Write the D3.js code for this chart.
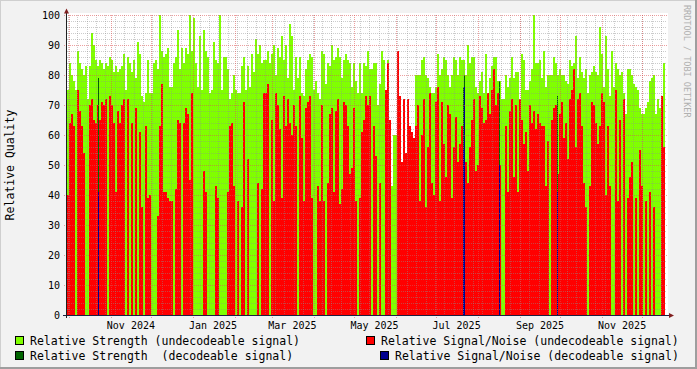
<!DOCTYPE html>
<html>
<head>
<meta charset="utf-8">
<script src="https://cdn.jsdelivr.net/npm/d3@7"></script>
<style>
html, body { margin: 0; padding: 0; background: #f2f2f2; }
svg { display: block; font-family: "DejaVu Sans Mono", monospace; }
</style>
</head>
<body>
<script>
// time span shown on the axis, and where the samples begin
const axisStart = new Date(Date.UTC(2024, 8, 29, 12))
const axisEnd = new Date(Date.UTC(2025, 11, 19, 9))
const stepHours = 35.67

// Relative Strength (undecodeable signal), one value per step
const strengthUndec = [
  75, 84, 80, 78, 75, 88, 84, 82, 80, 83, 72, 83, 94, 90, 85, 83, 85, 84, 82, 84,
  83, 86, 85, 81, 83, 81, 82, 83, 87, 75, 86, 84, 81, 85, 79, 91, 87, 73, 71, 74,
  85, 74, 74, 84, 85, 82, 100, 88, 86, 87, 89, 76, 76, 84, 86, 95, 82, 89, 84, 89,
  87, 100, 88, 99, 84, 76, 93, 75, 95, 88, 86, 74, 75, 91, 85, 84, 100, 75, 86, 86,
  82, 72, 74, 80, 75, 74, 74, 83, 86, 75, 83, 76, 87, 81, 92, 87, 90, 84, 85, 85,
  88, 84, 87, 90, 80, 89, 86, 93, 85, 90, 79, 97, 93, 75, 86, 79, 86, 74, 73, 82,
  85, 87, 86, 75, 78, 74, 72, 88, 87, 77, 84, 83, 90, 85, 86, 89, 86, 79, 85, 87,
  85, 84, 76, 84, 78, 74, 84, 74, 84, 83, 88, 82, 82, 84, 84, 70, 77, 88, 85, 75,
  85, 65, 43, 60, 60, 0, 0, 0, 0, 0, 0, 0, 0, 0, 80, 80, 80, 85, 86, 80,
  79, 76, 74, 74, 76, 87, 80, 82, 86, 85, 80, 76, 80, 86, 85, 80, 86, 85, 85, 80,
  90, 84, 86, 86, 76, 74, 78, 81, 74, 87, 74, 79, 83, 86, 86, 78, 78, 72, 72, 80,
  76, 79, 86, 79, 81, 81, 72, 87, 85, 75, 75, 78, 82, 100, 84, 84, 85, 79, 88, 76,
  80, 80, 80, 86, 84, 80, 82, 80, 80, 78, 77, 85, 83, 84, 93, 79, 86, 81, 79, 82,
  74, 80, 81, 83, 81, 80, 96, 87, 76, 93, 82, 73, 88, 76, 84, 82, 80, 81, 74, 67,
  82, 82, 80, 77, 76, 75, 69, 67, 67, 69, 71, 78, 79, 80, 67, 72, 69, 73, 84,
]

// Relative Signal/Noise (undecodeable signal), same steps
const snrUndec = [
  40, 64, 67, 63, 0, 75, 68, 63, 54, 0, 0, 70, 72, 65, 64, 70, 65, 71, 70, 72,
  0, 73, 70, 64, 41, 68, 64, 70, 72, 0, 72, 0, 64, 0, 69, 0, 61, 36, 0, 63,
  39, 40, 0, 0, 0, 33, 63, 77, 41, 41, 39, 38, 38, 0, 42, 65, 64, 0, 64, 69,
  67, 45, 74, 0, 0, 0, 0, 0, 48, 41, 0, 0, 0, 0, 43, 39, 0, 0, 0, 0,
  41, 63, 64, 43, 0, 38, 0, 36, 71, 0, 52, 0, 0, 0, 0, 44, 0, 42, 74, 74,
  77, 0, 65, 38, 74, 70, 62, 39, 73, 63, 72, 64, 60, 70, 63, 0, 73, 59, 38, 69,
  71, 73, 39, 0, 0, 43, 38, 70, 38, 0, 44, 67, 69, 41, 68, 72, 37, 42, 71, 70,
  63, 47, 49, 69, 38, 0, 39, 61, 65, 73, 70, 73, 0, 63, 53, 0, 44, 0, 0, 75,
  84, 65, 0, 0, 0, 88, 73, 51, 72, 54, 72, 63, 61, 59, 63, 70, 38, 60, 72, 36,
  56, 74, 44, 40, 71, 76, 38, 71, 57, 46, 70, 67, 39, 56, 66, 51, 57, 63, 55, 51,
  44, 56, 65, 72, 48, 50, 73, 69, 64, 65, 74, 67, 75, 82, 70, 74, 50, 0, 0, 63,
  41, 68, 72, 46, 70, 41, 72, 65, 57, 61, 48, 70, 64, 68, 62, 67, 64, 63, 63, 43,
  58, 0, 65, 69, 70, 47, 67, 71, 59, 64, 52, 72, 75, 82, 56, 72, 74, 63, 44, 36,
  0, 43, 71, 70, 64, 57, 63, 74, 71, 40, 63, 43, 0, 0, 75, 38, 65, 0, 72, 0,
  39, 46, 51, 0, 39, 0, 55, 43, 0, 38, 0, 41, 0, 36, 0, 0, 0, 73, 56,
]

// the few days with a decodeable signal
const decodeDays = ['2024-10-22', '2025-07-20', '2025-07-21', '2025-08-16', '2025-09-28']
const strengthDec = [79, 76, 80, 78, 73]
const snrDec = [41, 55, 76, 50, 41]

const yTicks = [0, 10, 20, 30, 40, 50, 60, 70, 80, 90, 100]

const legendItems = [
  { label: 'Relative Strength (undecodeable signal)', color: '#80ff00', x: 15, y: 336 },
  { label: 'Relative Signal/Noise (undecodeable signal)', color: '#ff0000', x: 366, y: 336 },
  { label: 'Relative Strength  (decodeable signal)', color: '#006400', x: 15, y: 351 },
  { label: 'Relative Signal/Noise (decodeable signal)', color: '#000090', x: 380, y: 351 },
]

const width = 697
const height = 369
const margin = { left: 67, right: 30, top: 15, bottom: 54 }

const svg = d3.select('body').append('svg')
  .attr('width', width)
  .attr('height', height)

// 3d border, like rrdtool draws it
svg.append('rect').attr('width', width).attr('height', height).attr('fill', '#f2f2f2')
svg.append('path').attr('d', `M0,${height} V0 H${width}`).attr('fill', 'none')
  .attr('stroke', '#cfcfcf').attr('stroke-width', 2)
svg.append('path').attr('d', `M0,${height - 1} H${width - 1} V0`).attr('fill', 'none')
  .attr('stroke', '#9e9e9e').attr('stroke-width', 2)

const x = d3.scaleUtc()
  .domain([axisStart, axisEnd])
  .range([margin.left, width - margin.right])

const y = d3.scaleLinear()
  .domain([0, 100])
  .range([height - margin.bottom, margin.top])

// canvas
svg.append('rect')
  .attr('x', margin.left)
  .attr('y', margin.top - 2)
  .attr('width', width - margin.right - margin.left + 1)
  .attr('height', height - margin.bottom - margin.top + 2)
  .attr('fill', '#ffffff')

const stepMs = stepHours * 3600 * 1000
const binTime = i => new Date(axisStart.getTime() + i * stepMs)
const binX = i => Math.round(x(binTime(i)))

const bars = (cls, values, color) => svg.append('g')
  .attr('class', cls)
  .attr('shape-rendering', 'crispEdges')
  .selectAll('rect')
  .data(values.map((v, i) => ({ v, i })).filter(d => d.v > 0))
  .join('rect')
  .attr('x', d => binX(d.i))
  .attr('width', d => binX(d.i + 1) - binX(d.i))
  .attr('y', d => Math.round(y(d.v)))
  .attr('height', d => Math.round(y(0)) - Math.round(y(d.v)))
  .attr('fill', color)

bars('strength', strengthUndec, '#80ff00')
bars('snr', snrUndec, '#ff0000')

const parseDay = d3.utcParse('%Y-%m-%d')
const dec = decodeDays.map((d, i) => ({ t: d3.utcHour.offset(parseDay(d), 12), s: strengthDec[i], n: snrDec[i] }))

const decBars = (key, color) => svg.append('g')
  .attr('shape-rendering', 'crispEdges')
  .selectAll('rect')
  .data(dec)
  .join('rect')
  .attr('x', d => Math.round(x(d.t)))
  .attr('width', 1)
  .attr('y', d => Math.round(y(d[key])))
  .attr('height', d => Math.round(y(0)) - Math.round(y(d[key])))
  .attr('fill', color)

decBars('s', '#006400')
decBars('n', '#000090')

// grid over the data
const grid = svg.append('g').attr('shape-rendering', 'crispEdges')
const gridColor = 'rgba(143,143,143,0.45)'
const mgridColor = 'rgba(222,80,80,0.55)'
const x0 = margin.left
const x1 = width - margin.right
const y0 = y(0)
const y1 = y(100)

grid.selectAll('.hminor')
  .data(d3.range(2, 101, 2).filter(v => v % 10 !== 0))
  .join('line')
  .attr('x1', x0).attr('x2', x1)
  .attr('y1', d => Math.round(y(d)) + 0.5).attr('y2', d => Math.round(y(d)) + 0.5)
  .attr('stroke', gridColor).attr('stroke-dasharray', '1,1')

grid.selectAll('.vminor')
  .data(d3.utcMonday.range(axisStart, axisEnd))
  .join('line')
  .attr('x1', d => Math.round(x(d)) + 0.5).attr('x2', d => Math.round(x(d)) + 0.5)
  .attr('y1', y1).attr('y2', y0)
  .attr('stroke', gridColor).attr('stroke-dasharray', '1,1')

grid.selectAll('.hmajor')
  .data(yTicks.filter(v => v > 0))
  .join('line')
  .attr('x1', x0 - 3).attr('x2', x1)
  .attr('y1', d => Math.round(y(d)) + 0.5).attr('y2', d => Math.round(y(d)) + 0.5)
  .attr('stroke', mgridColor).attr('stroke-dasharray', '1,1')

const months = d3.utcMonth.range(axisStart, axisEnd)
grid.selectAll('.vmajor')
  .data(months)
  .join('line')
  .attr('x1', d => Math.round(x(d)) + 0.5).attr('x2', d => Math.round(x(d)) + 0.5)
  .attr('y1', y1).attr('y2', y0 + 3)
  .attr('stroke', mgridColor).attr('stroke-dasharray', '1,1')

// axes
svg.append('line')
  .attr('x1', x0 - 4).attr('x2', x1 + 3)
  .attr('y1', y0 + 0.5).attr('y2', y0 + 0.5)
  .attr('stroke', '#1f1f3f')
svg.append('line')
  .attr('x1', x0 - 0.5).attr('x2', x0 - 0.5)
  .attr('y1', y0 + 3).attr('y2', y1 - 3)
  .attr('stroke', '#1f1f1f')

svg.append('path')
  .attr('d', `M${x0 - 3},${y1 - 1.5} L${x0 - 0.5},${y1 - 6.5} L${x0 + 2},${y1 - 1.5} Z`)
  .attr('fill', '#801f1f')
svg.append('path')
  .attr('d', `M${x1 + 2},${y0 - 2} L${x1 + 7},${y0 + 0.5} L${x1 + 2},${y0 + 3} Z`)
  .attr('fill', '#801f1f')

const yAxis = d3.axisLeft(y).tickValues(yTicks).tickSize(0).tickPadding(7)
svg.append('g')
  .attr('transform', `translate(${x0},0)`)
  .call(yAxis)
  .call(g => g.select('.domain').remove())
  .selectAll('text')
  .attr('font-family', '"DejaVu Sans Mono", monospace')
  .attr('font-size', 10)
  .attr('fill', '#000')

// month labels sit half a month after the grid line
svg.append('g')
  .selectAll('text')
  .data(d3.utcMonth.range(d3.utcMonth.ceil(axisStart), axisEnd).filter(d => d.getUTCMonth() % 2 === 0))
  .join('text')
  .attr('x', d => x(d3.utcDay.offset(d, 15)))
  .attr('y', y0 + 14)
  .attr('text-anchor', 'middle')
  .attr('font-size', 10)
  .text(d3.utcFormat('%b %Y'))

svg.append('text')
  .attr('transform', `translate(14,${(y0 + y1) / 2}) rotate(-90)`)
  .attr('text-anchor', 'middle')
  .attr('font-size', 11.5)
  .text('Relative Quality')

svg.append('text')
  .attr('transform', 'translate(684,5) rotate(90)')
  .attr('font-size', 8.5)
  .attr('fill', '#b0b0b0')
  .text('RRDTOOL / TOBI OETIKER')

// legend
const lg = svg.append('g')
  .selectAll('g')
  .data(legendItems)
  .join('g')
  .attr('transform', d => `translate(${d.x},${d.y})`)

lg.append('rect')
  .attr('x', 0.5).attr('y', 0.5)
  .attr('width', 8).attr('height', 8)
  .attr('fill', d => d.color)
  .attr('stroke', '#000')

lg.append('text')
  .attr('x', 15)
  .attr('y', 8.5)
  .attr('font-size', 11.5)
  .attr('xml:space', 'preserve')
  .style('white-space', 'pre')
  .text(d => d.label)
</script>
</body>
</html>
